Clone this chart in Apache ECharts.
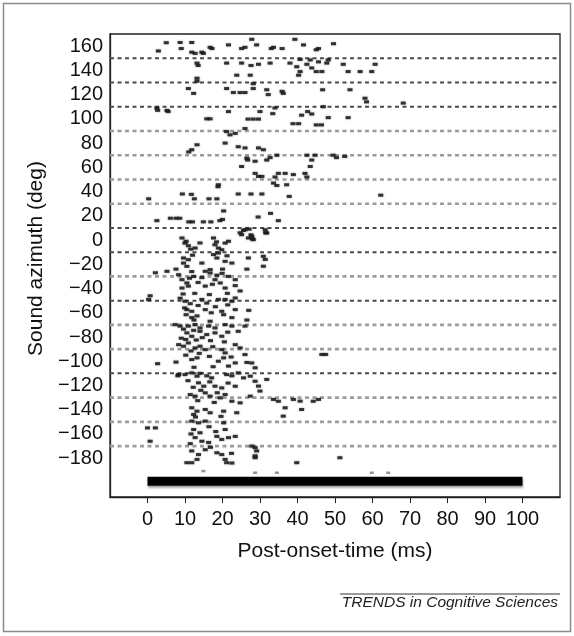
<!DOCTYPE html>
<html>
<head>
<meta charset="utf-8">
<script src="https://cdn.jsdelivr.net/npm/echarts@6/dist/echarts.min.js"></script>
<style>
  html, body { margin: 0; padding: 0; background: #fff; }
  #chart { width: 574px; height: 636px; }
</style>
</head>
<body>
<div id="chart"></div>
<script>
// azimuth rows of the raster (deg)
const rowAzimuths = [150, 130, 110, 90, 70, 50, 30, 10, -10, -30, -50, -70, -90, -110, -130, -150, -170];
const darkRows = [150, 130, 110, 10, -10, -50, -110];

const xTicks = [0, 10, 20, 30, 40, 50, 60, 70, 80, 90, 100];
const yTicks = [160, 140, 120, 100, 80, 60, 40, 20, 0, -20, -40, -60, -80, -100, -120, -140, -160, -180];

// stimulus: 0-100 ms, drawn under the raster
const stimulus = [0, 100];
const stimulusAz = -199;

// spikes as [post-onset time (ms), azimuth (deg)]
const spikesTop = [
  [5.0,162.8],[8.7,163],[11.8,163],[2.9,156],[9.0,158],[11.8,155],[12.7,154],[14.5,155],[16.7,159],[21.6,161],
  [26,159],[27.8,165.6],[29.1,161],[33.6,159],[35.9,158],[39.3,165.6],[41.6,161],[45,157],[45.6,158],[49.6,162],
  [43.4,148.6],[45.6,147],[48.2,148.6],[40.7,149],
  [13.2,146],[13.5,144],[21.1,146],[25.1,146],[29.6,145],[32.7,146],[38,146],[39.8,143],[40.7,139],[42.5,145],
  [43.8,142],[45,139],[46.5,139],[47.8,146],[23.8,136],[27.4,136],[27.6,144],[40.3,136],[52.2,145],[53.5,139],
  [56.7,139],[59.8,139],[60.7,145],[14.9,154],[17.2,158],[25.1,158],[33,158],
  [13.2,133.5],[13.2,131],[10.9,125],[12.3,121],[21.1,125],[22.9,121.7],[24.7,121.7],[26,121.7],[28.2,129],[28.2,125],
  [31.8,124],[32.2,120],[36.2,121],[46.7,124],[54,124],[58,117],[58.4,114],[68.2,113],[35.9,122.7],
  [2.5,109],[5.2,107],[2.7,107],[5.5,106],[46.9,110],
  [15.8,100],[16.7,100],[21.6,106],[26.8,99.8],[28.2,99.8],[29.6,99.8],[30,106],[34,109],[41.1,103],[43.8,104],
  [45,95],[46.4,95],[42.7,106],[48.2,101],[53.5,101],[33.4,104.3],[38.8,96],[40.3,96]
];
const spikesUpperMid = [
  [21.1,89.5],[22,86.8],[23.4,88],[26,92],[13.2,78.6],[11.8,74.5],[20.7,80],[24.2,77],[26,76],[29.6,76],
  [30.9,74.5],[11,72.7],
  [26.5,67.6],[26.7,66],[28.7,65],[31.8,66],[32.7,68],[34.5,70],[25.1,60.7],[42.5,70],[43.8,66],[44.7,70],
  [49.5,70],[50.4,68],[52.6,69],[43.4,60.7],[28.7,55],[29.6,52.5],[30.5,52.5],[34,52],[34.9,55],[36.7,55],
  [38.9,54],[42,55],[42.5,52],[18.9,45.6],[33.6,47],[34.5,45],[37.1,45.6]
];
const spikesMid = [
  [0.3,34],[9.3,38],[11.7,37.7],[12.5,34],[16.4,34],[18.5,34],[18.8,44],[24.2,38],[27.6,38],[30.5,38],[37.8,36],[62.2,37],
  [2.5,16],[6.1,18],[7.6,18],[8.6,18],[11,15],[12,15],[14.9,15],[16.9,15],[19.3,16],[20,17],[20.3,24],[29.5,19],
  [32.8,22],[34.9,16],
  [24.7,6],[25.6,8],[27.6,4.3],[28,1],[31.5,6],[27.1,9],[26,8.5],[31.4,8.5],[31.8,5.8],[26.9,1.7],[28.2,0.3],
  [9.2,1.7],[10,-2.5],[10.9,-4.7],[12.7,-6.6],[14,-2.4],[17.6,1.7],[18,-3.9],[18.9,-6.6],[20.7,-2.5],[21.6,-1],
  [25.1,4.4],[27.8,3],[11.5,-7.5],[19.8,-8],[10.3,-1],[18.4,-1.5],
  [17.6,-12],[18.9,-10.7],[18.5,-14.8],[20.7,-17.6],[22.5,-19],[9.6,-19],[10.5,-21.7],[14.5,-19],[26.9,-14.8],
  [30.9,-13.4],[31.4,-16],[26.5,-24],[30.9,-21.6],[16.7,-24.4],[9.6,-14.8],[10.9,-16.2],[12,-12.5],[21.2,-13],
  [2.1,-27],[5.2,-25.8],[7.6,-24],[8.3,-28.6],[9.2,-32.7],[10.5,-35.4],[12.3,-30],[15.4,-25.8],[16.7,-27.2],
  [18,-32.7],[19.4,-35.4],[21.6,-30],[23.4,-32.7],[9.2,-39.6],[10.9,-38],[15.4,-38],[20.7,-39.6],[23.4,-37.6],
  [18.5,-29],[14.5,-31],[11.8,-26],[20,-24],[13.5,-35],[17.3,-36.5],[11.2,-31.5],[19.9,-27.5]
];
const spikesLowerMid = [
  [24.7,-42],[18.9,-49],[20.7,-49],[22.5,-50.5],[23.4,-47.8],[0.3,-49],[0.7,-46],[10,-50.5],[11.4,-52.5],[14.5,-49],
  [15.8,-52],[8.7,-48],[10.5,-57.4],[11.8,-58.8],[15.4,-57.4],[19.8,-58.8],[23.4,-57.4],[18.1,-55],[9.9,-56],
  [20.3,-61.6],[22.5,-64],[10.3,-61.6],[11.8,-64],[13.2,-62.6],[16.7,-67],[27,-58],[26.5,-66],[12.6,-44],[16.5,-45],
  [9.5,-44.5],[21.3,-44],[13.5,-54],[17,-60],[12.4,-66],[21.4,-53.5],
  [7.4,-69.8],[8.7,-71],[10.9,-71],[12.7,-69.8],[14,-72.5],[16.3,-71],[18,-72.5],[20.7,-69.8],[22.5,-71],[26,-71],
  [10.5,-76.6],[11.8,-79.4],[14,-75.3],[15.8,-78],[18,-76.6],[19.8,-79.4],[24.2,-75.3],[9,-81],[13,-82.5],[16.8,-83],
  [9.6,-73.5],[12.3,-74.5],[21.4,-76],[10.2,-82],[14.6,-80.5],[20.5,-84],
  [8.3,-86.3],[9.6,-87.6],[10.9,-84.9],[12.7,-89],[14,-87.6],[15.4,-90.4],[19.8,-90.4],[20.7,-93.1],[23.4,-86.3],
  [24.7,-89],[26,-94.5],[46.5,-94.4],[47.5,-94.4],[11.8,-98.6],[13.2,-97.2],[18.9,-100],[20.3,-97.2],[2.7,-102],
  [7.6,-100.7],[10.2,-95],[16.5,-96],[22.3,-96.5],[11.6,-91.5],[17.4,-88],[13.8,-93.5]
];
const spikesBottom = [
  [21.6,-104],[23.4,-101.4],[27.8,-101.4],[26.5,-101],[28.7,-105.4],[8.3,-111],[10,-111],[11.8,-109.6],[13.2,-112.3],
  [14,-110],[15.8,-112],[17.1,-113.7],[21.1,-111],[22.5,-112],[24.2,-109.6],[25.6,-113.7],[27.4,-112.3],[8.1,-112],
  [13.6,-117.8],[15,-120.6],[18,-120.6],[19.8,-122],[23.4,-120.6],[28.7,-116.5],[31.8,-115],[29.6,-120.5],[30,-124.6],
  [11.4,-127.5],[12.7,-128.8],[15.4,-126.1],[16.7,-128.8],[19.4,-130.2],[20.7,-127.5],[22.5,-133],[24.7,-134.3],
  [27.4,-128.8],[33.6,-131.5],[34.9,-133],[38.9,-131.5],[40.7,-132.9],[41.1,-139.8],[44.2,-133],[45.6,-131.5],
  [36.7,-138.4],[36.2,-145.3],[12.4,-105],[17.5,-104.5],[12.2,-121.5],[21.5,-118],
  [10.8,-116],[16.6,-117],[14.2,-124],[18.6,-126],[13.4,-132.5],[17.8,-134],
  [11.8,-138.4],[13.2,-141.2],[12.3,-143.9],[15.4,-139.8],[16.7,-142.5],[20.3,-141.2],[23.8,-142.5],[11.8,-149.4],
  [13.6,-150.8],[15.4,-149.4],[20.3,-150.8],[0,-155],[2.1,-155],[12.3,-156.3],[14,-159],[20.7,-156.3],
  [12.8,-146],[19.6,-145.5],[16.4,-154],[11.6,-160],[18.2,-158],
  [0.7,-166],[12.7,-163],[14.5,-166],[16.3,-167],[18.5,-162],[19.8,-164.5],[21.6,-163],[23.4,-162],[27.8,-170],
  [11.8,-174],[13.6,-177],[15.4,-173],[18.5,-175.5],[19.8,-177],[28.7,-171.3],[29.1,-174],[28.7,-179.6],[51.3,-179.6],
  [20.7,-181],[22.5,-184],[10.5,-183.7],[11.8,-183.7],[13.2,-181],[21.1,-183.7],[39.8,-183.7],[28.7,-178],
  [11.4,-168],[16.8,-171],[22.4,-176]
];
const spikesFaint = [[14.9,-190.6],[28.7,-192],[34.5,-192],[59.8,-192],[64.2,-192]];

const X_MIN = -10, X_MAX = 110;
const FONT = '"Liberation Sans", Arial, Helvetica, sans-serif';
const minus = v => String(v).replace('-', '\u2212');

const chart = echarts.init(document.getElementById('chart'));

const rowSeries = rowAzimuths.map(az => {
  const dark = darkRows.includes(az);
  return {
    type: 'line',
    silent: true,
    symbol: 'none',
    z: 1,
    data: [[X_MIN, az], [X_MAX, az]],
    lineStyle: {
      color: dark ? '#4a4a4a' : '#9c9c9c',
      width: dark ? 2 : 2.6,
      type: [4, 3.5]
    }
  };
});

const spikeSeries = [spikesTop, spikesUpperMid, spikesMid, spikesLowerMid, spikesBottom].map(d => ({
  type: 'scatter',
  silent: true,
  symbol: 'rect',
  symbolSize: [5, 3],
  z: 3,
  data: d,
  itemStyle: { color: '#1a1a1a', opacity: 0.85, shadowColor: 'rgba(0,0,0,0.45)', shadowBlur: 2 }
}));

const option = {
  animation: false,
  backgroundColor: '#fff',
  textStyle: { fontFamily: FONT },
  grid: {
    left: 110, right: 14, top: 34, bottom: 139,
    show: true, borderColor: '#222', borderWidth: 1.3
  },
  xAxis: {
    type: 'value',
    min: X_MIN, max: X_MAX,
    name: 'Post-onset-time (ms)',
    nameLocation: 'middle',
    nameGap: 44,
    nameTextStyle: { fontSize: 21, color: '#111', fontFamily: FONT },
    axisLine: { show: true, onZero: false, lineStyle: { color: '#222', width: 1.3 } },
    axisTick: { show: true, length: 6, lineStyle: { color: '#222' }, customValues: xTicks },
    axisLabel: { fontSize: 20, color: '#111', margin: 12, customValues: xTicks, fontFamily: FONT },
    splitLine: { show: false }
  },
  yAxis: {
    type: 'value',
    min: -212, max: 170,
    name: 'Sound azimuth (deg)',
    nameLocation: 'middle',
    nameGap: 52,
    nameTextStyle: { fontSize: 21, color: '#111', fontFamily: FONT, padding: [0, 0, 0, 14] },
    axisLine: { show: true, onZero: false, lineStyle: { color: '#222', width: 1.3 } },
    axisTick: { show: false },
    axisLabel: { fontSize: 20, color: '#111', margin: 7, customValues: yTicks, formatter: minus, fontFamily: FONT },
    splitLine: { show: false }
  },
  series: [
    ...rowSeries,
    {
      type: 'line',
      silent: true,
      symbol: 'none',
      z: 2,
      data: stimulus.map(t => [t, stimulusAz]),
      lineStyle: { color: '#000', width: 9, cap: 'butt', shadowColor: 'rgba(0,0,0,0.35)', shadowBlur: 2, shadowOffsetY: 2 }
    },
    ...spikeSeries,
    {
      type: 'scatter',
      silent: true,
      symbol: 'rect',
      symbolSize: [4, 2.5],
      z: 3,
      data: spikesFaint,
      itemStyle: { color: '#666', opacity: 0.7 }
    }
  ],
  graphic: [
    {
      type: 'rect',
      shape: { x: 3.5, y: 3.5, width: 567, height: 628 },
      style: { fill: 'none', stroke: '#8a8a8a', lineWidth: 1.5 },
      silent: true
    },
    {
      type: 'line',
      shape: { x1: 340, y1: 594, x2: 560, y2: 594 },
      style: { stroke: '#333', lineWidth: 1 },
      silent: true
    },
    {
      type: 'text',
      right: 16, top: 595,
      style: { text: 'TRENDS in Cognitive Sciences', font: 'italic 15.5px ' + FONT, fill: '#222' },
      silent: true
    }
  ]
};

chart.setOption(option);
</script>
</body>
</html>
